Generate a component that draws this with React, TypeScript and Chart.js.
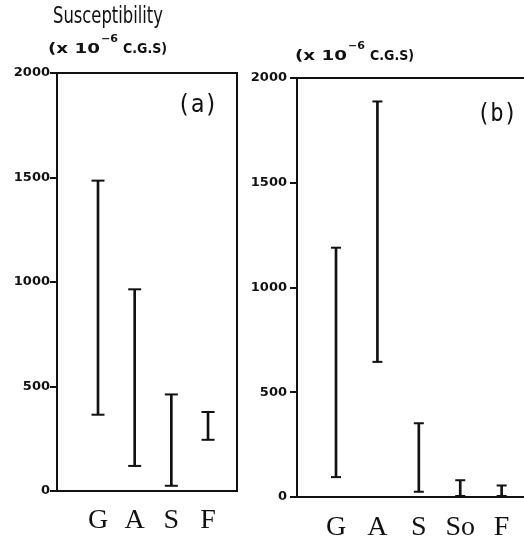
import React, { useEffect, useRef } from 'react';
import { Chart, registerables } from 'chart.js';
Chart.register(...registerables);

// Panel (a)
const catsA = ['G', 'A', 'S', 'F'];
const lowA = [365, 120, 25, 245];
const highA = [1485, 965, 462, 378];
// Panel (b)
const catsB = ['G', 'A', 'S', 'So', 'F'];
const lowB = [95, 645, 25, 0, 0];
const highB = [1190, 1888, 352, 80, 55];
// shared y ticks
const yTicks = [0, 500, 1000, 1500, 2000];

const INK = '#111';

function fit(ctx: CanvasRenderingContext2D, text: string, x: number, y: number, w: number, font: string) {
  ctx.save();
  ctx.font = font;
  ctx.fillStyle = INK;
  ctx.textAlign = 'left';
  ctx.textBaseline = 'alphabetic';
  const m = ctx.measureText(text).width || 1;
  ctx.translate(x, y);
  ctx.scale(w / m, 1);
  ctx.fillText(text, 0, 0);
  ctx.restore();
}

type PanelProps = {
  cats: string[]; low: number[]; high: number[];
  w: number; h: number; left: number; top: number; right: number; bottom: number;
  xMin: number; xMax: number; capW: number; yPad: number; xPad: number;
  box: boolean; annotate: (ctx: CanvasRenderingContext2D, x0: number) => void;
  x0: number;
};

function Panel(p: PanelProps) {
  const ref = useRef<HTMLCanvasElement>(null);
  useEffect(() => {
    const data = p.cats.map((_, i) => ({ x: i + 1, y: [p.low[i], p.high[i]] }));
    const capsPlugin = {
      id: 'caps',
      afterDatasetsDraw(chart: any) {
        const ctx = chart.ctx;
        const meta = chart.getDatasetMeta(0);
        ctx.save();
        ctx.strokeStyle = INK;
        ctx.lineWidth = 2;
        meta.data.forEach((el: any) => {
          [el.y, el.base].forEach((yy: number) => {
            ctx.beginPath();
            ctx.moveTo(el.x - p.capW / 2, yy);
            ctx.lineTo(el.x + p.capW / 2, yy);
            ctx.stroke();
          });
        });
        ctx.restore();
      },
    };
    const framePlugin = {
      id: 'frame',
      afterDraw(chart: any) {
        const { ctx, chartArea: a } = chart;
        ctx.save();
        ctx.strokeStyle = INK;
        ctx.lineWidth = 2;
        ctx.beginPath();
        ctx.moveTo(a.left, a.top);
        ctx.lineTo(a.right, a.top);
        if (p.box) ctx.lineTo(a.right, a.bottom);
        ctx.stroke();
        ctx.restore();
        p.annotate(ctx, p.x0);
      },
    };
    const chart = new Chart(ref.current as HTMLCanvasElement, {
      type: 'bar',
      data: {
        datasets: [{ data: data as any, backgroundColor: INK, borderWidth: 0, barThickness: 2 }],
      },
      options: {
        responsive: false,
        animation: false,
        devicePixelRatio: 1,
        layout: { padding: { top: p.top, left: 0, right: p.w - p.right, bottom: 0 } },
        plugins: { legend: { display: false }, tooltip: { enabled: false } },
        scales: {
          x: {
            type: 'linear',
            offset: false,
            min: p.xMin,
            max: p.xMax,
            afterBuildTicks: (s: any) => { s.ticks = p.cats.map((_, i) => ({ value: i + 1 })); },
            afterFit: (s: any) => { s.height = p.h - p.bottom; },
            grid: { display: false, offset: false },
            border: { display: true, color: INK, width: 2 },
            ticks: {
              callback: (v: any) => p.cats[Math.round(Number(v)) - 1] ?? '',
              font: { family: 'Liberation Serif', size: 28 },
              color: INK,
              padding: p.xPad,
              maxRotation: 0,
              autoSkip: false,
            },
          },
          y: {
            min: 0,
            max: 2000,
            afterBuildTicks: (s: any) => { s.ticks = yTicks.map((v) => ({ value: v })); },
            afterFit: (s: any) => { s.width = p.left; },
            grid: { drawOnChartArea: false, drawTicks: true, tickLength: 7, color: INK, lineWidth: 2 },
            border: { display: true, color: INK, width: 2 },
            ticks: {
              callback: (v: any) => String(v),
              font: { family: 'DejaVu Sans', size: 13, weight: 'bold' },
              color: INK,
              padding: p.yPad,
            },
          },
        },
      } as any,
      plugins: [capsPlugin, framePlugin],
    });
    return () => chart.destroy();
  }, []);
  return (
    <canvas
      ref={ref}
      width={p.w}
      height={p.h}
      style={{ position: 'absolute', left: p.x0, top: 0, width: p.w, height: p.h }}
    />
  );
}

function annotateA(ctx: CanvasRenderingContext2D, x0: number) {
  const o = -x0;
  fit(ctx, 'Susceptibility', 53 + o, 23, 110, '23px "DejaVu Sans"');
  fit(ctx, '(x 10', 48 + o, 53, 52, 'bold 14px "DejaVu Sans"');
  fit(ctx, '\u22126', 101 + o, 42, 17, 'bold 10px "DejaVu Sans"');
  fit(ctx, 'C.G.S)', 123 + o, 53, 44, 'bold 14px "DejaVu Sans"');
  fit(ctx, '(a)', 177 + o, 112, 41, '24px "DejaVu Sans Mono"');
}

function annotateB(ctx: CanvasRenderingContext2D, x0: number) {
  const o = -x0;
  fit(ctx, '(x 10', 295 + o, 60, 52, 'bold 14px "DejaVu Sans"');
  fit(ctx, '\u22126', 348 + o, 49, 17, 'bold 10px "DejaVu Sans"');
  fit(ctx, 'C.G.S)', 370 + o, 60, 44, 'bold 14px "DejaVu Sans"');
  fit(ctx, '(b)', 477 + o, 121, 40, '24px "DejaVu Sans Mono"');
}

export default function App() {
  return (
    <div style={{ position: 'fixed', left: 0, top: 0, width: 524, height: 542, background: '#fff', overflow: 'hidden' }}>
      <Panel
        cats={catsA} low={lowA} high={highA}
        w={250} h={542} left={57} top={73} right={237} bottom={491}
        xMin={-0.118} xMax={4.79} capW={13} yPad={0} xPad={5}
        box={true} annotate={annotateA} x0={0}
      />
      <Panel
        cats={catsB} low={lowB} high={highB}
        w={294} h={542} left={67} top={78} right={294} bottom={497}
        xMin={0.058} xMax={5.54} capW={10} yPad={3} xPad={6}
        box={false} annotate={annotateB} x0={230}
      />
    </div>
  );
}
